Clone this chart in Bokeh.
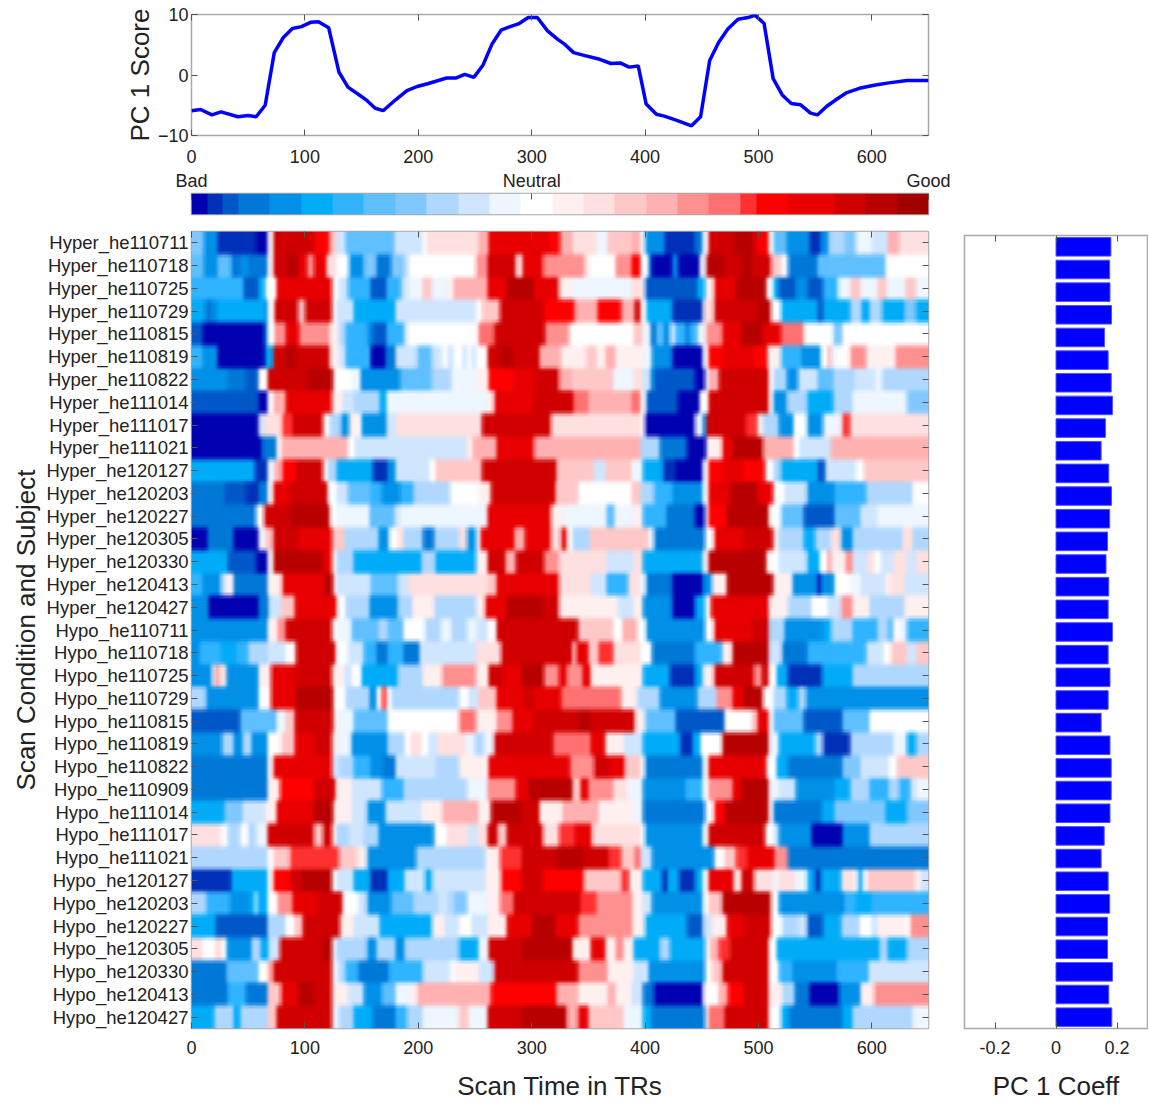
import numpy as np
from bokeh.embed import file_html
from bokeh.resources import INLINE
from bokeh.plotting import figure
from bokeh.layouts import column, row
from bokeh.models import Range1d, LinearAxis, FixedTicker

FONT = "Liberation Sans"

SCORE_T = [0,8,18,26,41,50,57,65,73,81,89,97,105,112,121,130,138,148,154,162,169,180,190,199,209,225,233,241,249,257,265,273,281,289,297,305,314,323,329,337,347,360,370,378,386,394,401,410,417,428,441,449,457,465,473,482,491,497,505,513,521,529,537,546,552,560,569,578,589,602,615,631,650]
SCORE_V = [-5.9,-5.7,-6.6,-6.1,-6.9,-6.7,-6.9,-5.0,3.7,6.2,7.7,8.0,8.7,8.8,7.8,0.5,-2.0,-3.3,-4.1,-5.5,-5.9,-4.1,-2.6,-1.9,-1.4,-0.5,-0.5,0.1,-0.4,1.6,5.1,7.4,8.0,8.5,9.5,9.5,7.3,5.9,5.1,3.7,3.2,2.6,1.9,2.0,1.3,1.5,-4.8,-6.5,-6.8,-7.5,-8.4,-6.9,2.4,5.4,7.6,9.2,9.5,9.9,8.5,-0.6,-3.3,-4.7,-4.9,-6.3,-6.6,-5.2,-4.0,-2.9,-2.2,-1.7,-1.3,-0.9,-0.9]

LABELS = ["Hyper_he110711","Hyper_he110718","Hyper_he110725","Hyper_he110729","Hyper_he110815","Hyper_he110819","Hyper_he110822","Hyper_he111014","Hyper_he111017","Hyper_he111021","Hyper_he120127","Hyper_he120203","Hyper_he120227","Hyper_he120305","Hyper_he120330","Hyper_he120413","Hyper_he120427",
"Hypo_he110711","Hypo_he110718","Hypo_he110725","Hypo_he110729","Hypo_he110815","Hypo_he110819","Hypo_he110822","Hypo_he110909","Hypo_he111014","Hypo_he111017","Hypo_he111021","Hypo_he120127","Hypo_he120203","Hypo_he120227","Hypo_he120305","Hypo_he120330","Hypo_he120413","Hypo_he120427"]

COEFF = [.180,.176,.177,.182,.159,.171,.181,.185,.162,.148,.173,.182,.176,.169,.164,.173,.171,.185,.171,.177,.171,.148,.177,.181,.181,.177,.158,.148,.171,.176,.169,.169,.185,.173,.183]

LEVEL_COLORS = dict(a="#0000b0",b="#0030b8",c="#0058c8",d="#0078d8",e="#0090e8",f="#00acf8",g="#30b4ff",h="#60c0ff",i="#80c8ff",j="#b0d8ff",k="#d0e6ff",l="#eef6ff",m="#ffffff",n="#fff0f0",o="#ffe0e0",p="#ffc8c8",q="#ffb0b0",r="#ff9090",s="#ff7070",t="#ff3030",u="#ff0000",v="#e80000",w="#d00000",x="#b80000",y="#a00000")
COLORBAR_LEVELS = list("abcddeeffgghhiijjkkllmmnnooppqqrrsstuuvvvwwxxyy")

# each row: "<end TR><level>" runs
ROWS = [
"11i 23e 57b 67a 72m 108w 122u 128p 136k 179h 204k 207m 253o 262q 316v 325u 336q 357o 367l 388p 396q 400m 417e 444b 451d 456m 478w 496x 500v 509u 513m 525h 545e 555b 562e 576j 586i 600l 614k 624q 650o",
"11h 23e 35h 43d 50e 67d 72m 84w 94x 102v 108r 119v 128o 139m 152e 163i 176d 187i 191j 251m 261r 286w 292o 310v 347r 352n 374m 388r 396u 403m 406d 424a 429e 448a 454l 470x 485w 494x 511w 520p 526m 552d 612h 650m",
"46g 59c 65f 75m 124v 130m 138k 158g 172c 185g 191k 204l 212p 226l 231n 261q 278v 302x 324v 336n 388l 398o 400m 446c 453f 461n 480v 507x 513m 518f 533c 543e 557c 570g 581l 590p 605l 613p 630l 639p 650l",
"12f 18d 23e 65f 67d 73m 94w 100p 124w 128m 143k 180f 251k 256m 272p 311w 338u 358q 379u 391q 396w 401m 424f 451b 461o 499w 511x 520m 552f 557c 581f 591j 598f 609j 629f 639i 650f",
"10c 64a 67d 73m 83r 95v 122r 130n 136j 155g 160e 172c 187g 190j 253m 267s 312w 333r 390m 398p 405l 410d 416h 422e 427k 436g 439d 446g 454l 468r 485v 504x 520v 540s 566m 574i 650m",
"10g 23e 65a 72f 83w 92x 122w 130n 136k 158g 171a 180d 199k 212h 221k 226m 231k 239m 243k 247m 251k 261m 272w 283x 307w 326q 348n 357p 365n 374q 398n 406l 424e 451a 456m 468u 496v 508u 520n 538g 555e 561m 564q 569l 581m 595r 621n 650r",
"32e 48d 59c 67m 102w 125x 141m 149l 184e 212h 229j 251l 262n 284u 303v 324w 335q 372p 390l 398o 405k 408e 444c 453a 456m 465q 509w 513m 525j 535e 552k 566h 585j 603k 609l 650j",
"59c 67a 72m 83q 124v 133n 143k 166j 172f 261l 267n 302v 337w 350s 388q 396s 401m 429c 448a 456m 509w 513m 525e 543j 566f 583j 631l 650i",
"59a 64k 80o 89t 116w 122m 132j 139e 147n 150m 172e 180k 256o 317w 396o 400m 444a 451l 454e 489w 499t 504n 518j 531e 543m 557e 574l 581t 650o",
"62a 75d 79m 138q 144m 243k 248n 269q 302v 396q 413j 437d 454a 468n 477v 504x 531q 536m 564k 650q",
"56f 67b 73l 80q 92u 116w 120m 128j 160f 173b 180e 210k 215m 256p 322w 355p 365k 388p 398l 416f 427b 451a 456m 468u 487v 506u 513m 520j 552f 559c 586k 593m 650p",
"29d 48c 59b 67d 72m 86v 120w 128m 138k 158h 168g 184e 196g 228j 253m 264n 321w 341p 388m 396p 408j 424g 451e 456m 475v 499x 513v 523m 543k 567e 595g 636j 650m",
"57d 64m 87w 122x 128m 157l 179h 184k 261l 317v 327n 366l 373h 390l 398n 419g 444d 453a 456m 472u 509x 520m 540h 567c 590h 605k 650l",
"14a 37d 59a 65l 72p 94w 124v 135p 165j 174e 182m 187o 204j 214d 236j 243o 251e 255m 285v 294q 317v 326o 331v 336m 351j 403p 408l 453d 461m 487v 513w 518n 540j 550f 564j 573o 583e 627j 636o 650j",
"32f 57c 67a 72m 116x 124v 128m 143j 203f 215j 251f 261n 277w 286q 311w 324r 366o 390k 398o 451f 456n 507x 518m 543k 554f 561m 564r 577n 583r 596k 602o 608m 619k 631o 639k 650o",
"10g 26e 31k 37n 67d 80n 117v 125x 128n 158k 182h 191k 261o 269p 324v 352o 366k 385g 395o 401l 424d 451a 459e 472n 513x 530n 552e 555a 567e 581m 590l 612k 617n 629o 650k",
"15e 59a 68d 79k 91p 128v 136m 157j 182e 195j 214n 251j 259n 278v 310x 324w 376n 390k 398n 424e 444a 453f 458m 509v 526n 547j 561m 573k 583r 598n 629j 650n",
"67e 76n 83r 124w 128m 141l 165h 173j 187h 206m 220j 229l 243j 251l 261k 269m 317w 341w 372p 380m 393q 401m 453e 461m 494v 509w 523j 557e 564f 583j 605g 614j 619h 624m 631l 650g",
"7e 26g 40f 50g 67j 83k 92m 127w 138m 152k 163g 173d 187g 201d 251k 273o 336w 339n 350v 359p 372t 396o 406m 444d 468g 477n 509x 521k 543d 595g 610k 617m 631p 639k 650p",
"18e 21n 24r 31o 59e 70n 92v 124w 135n 141k 150m 182f 204j 221n 251r 262n 275w 291v 311x 324r 331v 345r 352v 398n 422f 444b 451f 461n 496w 503r 509w 516m 526f 556b 583f 650j",
"13j 59e 70m 92v 125x 136m 157j 163e 168m 172t 176m 236j 244m 253k 269p 294v 302w 326v 379s 393n 413j 446e 463j 477r 487v 504x 513m 525j 535f 542j 650e",
"43c 75h 83l 91p 125w 128n 143l 173h 236m 251s 269n 283r 302v 311w 341w 352x 391w 400n 427h 470c 494m 499p 509v 513m 540h 574c 598h 650m",
"27e 37j 45e 53j 67e 79m 91p 108v 124w 128n 141l 173e 188j 193m 203o 209m 217k 242o 250l 258j 267l 319w 352s 365v 381n 398k 431f 442b 449f 468m 509x 518l 550f 557j 581b 619j 631l 639f 650j",
"67d 72m 124v 130k 143j 158g 169e 180d 215k 236j 262n 334v 355r 369w 382v 396p 400m 451d 456m 507v 516m 526f 574d 590i 615k 622m 650p",
"67d 78n 108u 127w 141n 168k 187g 243j 261l 286r 297v 336x 343p 350v 372r 384o 398l 436e 451g 456m 477r 485v 509x 518l 533k 567e 581f 598j 615g 624j 634g 639k 650l",
"29f 45i 65k 75n 108v 125x 141n 155k 171e 180k 203k 221n 253q 264n 291x 307w 327n 359q 390n 398l 453d 461m 470u 509x 513m 556d 567f 612i 631f 650i",
"26o 32m 43j 50m 57j 67l 108w 116p 124w 128n 139j 152k 165j 214e 225m 244o 252k 261o 270w 278p 310w 324o 338t 353v 396o 400m 451e 456m 506w 513m 518k 547e 574a 598e 650j",
"67j 72m 87p 130t 146p 155n 198e 259j 272n 291t 322w 346x 368w 379t 391p 396s 406k 461e 470m 480p 490t 514v 526r 650d",
"35b 67f 72m 87u 98w 124x 128m 143k 158f 173b 188f 206k 212f 259k 273n 291u 310w 346u 379p 386t 398n 415f 420b 430f 444b 451f 456m 478v 485o 496w 513o 518l 533o 543l 550f 555b 573f 583o 588n 592f 596m 638p 643n 650k",
"13j 34g 51e 56f 58l 67f 76m 89r 111v 133w 147m 155k 176e 196h 218j 226k 232j 243i 261l 272n 284s 343w 357t 389r 398n 406k 451e 456m 468p 511x 518m 576e 586g 600f 650g",
"21f 67c 83j 91m 98p 131w 143n 166k 212f 223n 236k 247m 261k 278n 300v 321x 341v 389r 400n 437f 451c 459k 472n 488v 511w 521m 535j 543k 557c 573f 589j 600m 605k 630n 634m 650r",
"10o 20m 27o 31m 53e 61j 68f 78k 116w 124x 128l 155j 163e 180j 188e 236j 253f 262l 292w 336x 352n 365v 374n 381r 390n 413f 422j 453f 458n 465q 475t 509w 516m 607f 614j 631f 650j",
"31d 59h 67m 72q 124w 130l 136j 147g 174d 204g 228k 232m 253n 267k 341w 367r 390n 403k 453e 459m 468p 509w 518m 530g 569e 597g 650k",
"32d 48g 67d 79p 94v 108x 124w 138n 152k 168e 180h 193l 199n 264q 322u 341q 367n 374q 388n 398k 408d 451a 465m 473q 487u 509w 521n 532j 545d 571a 590e 602n 650r",
"20f 37j 43f 67j 75p 124w 130l 143j 160f 180d 190g 204j 236l 244p 261l 291w 331x 341q 350v 381p 398l 406f 453d 456m 470s 509w 520m 527f 574d 583f 636j 650l",
]

TICK = "#555555"
FRAME = "#a8a8a8"

def hex2rgb(h):
    return [int(h[i:i+2], 16) for i in (1, 3, 5)]

def to_rgba(img):
    img = img.astype(np.uint32)
    return (255 << 24) | (img[..., 2] << 16) | (img[..., 1] << 8) | img[..., 0]

def build_image(rows):
    sub = 8
    img = np.zeros((len(rows) * sub, 650, 3), dtype=float)
    for r, s in enumerate(rows):
        start = 0
        for tok in s.split():
            end, lev = int(tok[:-1]), tok[-1]
            img[r * sub:(r + 1) * sub, start:end] = hex2rgb(LEVEL_COLORS[lev])
            start = end
    kx = np.array([1, 2, 3, 4, 3, 2, 1], float); kx /= kx.sum()
    ky = np.array([1, 2, 1], float); ky /= ky.sum()
    pad = np.pad(img, ((0, 0), (3, 3), (0, 0)), mode="edge")
    img = sum(k * pad[:, i:i + 650] for i, k in enumerate(kx))
    pad = np.pad(img, ((1, 1), (0, 0), (0, 0)), mode="edge")
    img = sum(k * pad[i:i + img.shape[0]] for i, k in enumerate(ky))
    return to_rgba(img[::-1])

def style(ax, size="18px"):
    ax.major_label_text_font = FONT
    ax.major_label_text_font_size = size
    ax.major_label_text_color = "#222222"
    ax.axis_line_color = None
    ax.major_tick_line_color = TICK
    ax.major_tick_in = 6
    ax.major_tick_out = 0
    ax.minor_tick_line_color = None
    ax.axis_label_text_font = FONT
    ax.axis_label_text_font_style = "normal"
    ax.axis_label_text_color = "#222222"
    ax.axis_label_text_font_size = "26px"

def blank_axis(ticks):
    ax = LinearAxis(ticker=FixedTicker(ticks=ticks))
    style(ax, "1px")
    ax.major_label_overrides = {t: "" for t in ticks}
    ax.major_label_standoff = 0
    return ax

def base(width, height, xr, yr, bl, br, bt, bb):
    p = figure(width=width, height=height, x_range=xr, y_range=yr,
               toolbar_location=None, output_backend="svg",
               min_border_left=bl, min_border_right=br, min_border_top=bt, min_border_bottom=bb,
               x_axis_location=None, y_axis_location=None)
    p.grid.visible = False
    p.outline_line_color = FRAME
    p.outline_line_width = 1.5
    return p

XT = [0, 100, 200, 300, 400, 500, 600]

# score line
top = base(1149, 165, Range1d(0, 650), Range1d(-10, 10), 191, 221, 14, 29)
top.line(SCORE_T, SCORE_V, line_color="#0000ff", line_width=3.5)
ax = LinearAxis(ticker=FixedTicker(ticks=XT)); style(ax); ax.major_label_standoff = 14
top.add_layout(ax, "below")
ay = LinearAxis(ticker=FixedTicker(ticks=[-10, 0, 10]), axis_label="PC 1 Score"); style(ay)
ay.major_label_standoff = 3; ay.axis_label_standoff = 0
top.add_layout(ay, "left")
top.add_layout(blank_axis(XT), "above")
top.add_layout(blank_axis([-10, 0, 10]), "right")

# colour bar
cb = base(1149, 53, Range1d(0, 650), Range1d(0, 1), 191, 221, 28, 4)
cb.image_rgba(image=[to_rgba(np.array([[hex2rgb(LEVEL_COLORS[c]) for c in COLORBAR_LEVELS]], dtype=float))],
              x=0, y=0, dw=650, dh=1)
cax = LinearAxis(ticker=FixedTicker(ticks=[0, 300, 650]))
style(cax)
cax.major_label_overrides = {0: "Bad", 300: "Neutral", 650: "Good"}
cax.major_label_standoff = 3
cb.add_layout(cax, "above")

# heat map
nr = len(ROWS)
ht = base(935, 885, Range1d(0, 650), Range1d(0, nr), 191, 7, 13, 72)
ht.image_rgba(image=[build_image(ROWS)], x=0, y=0, dw=650, dh=nr)
yt = [nr - 0.5 - i for i in range(nr)]
hx = LinearAxis(ticker=FixedTicker(ticks=XT), axis_label="Scan Time in TRs"); style(hx)
hx.major_label_standoff = 12; hx.axis_label_standoff = 14
ht.add_layout(hx, "below")
hy = LinearAxis(ticker=FixedTicker(ticks=yt), axis_label="Scan Condition and Subject"); style(hy, "18.5px")
hy.major_label_overrides = {t: l for t, l in zip(yt, LABELS)}
hy.major_label_standoff = 3; hy.axis_label_standoff = 3
ht.add_layout(hy, "left")
ht.add_layout(blank_axis(XT), "above")
ht.add_layout(blank_axis(yt), "right")

# coefficient bars
br = base(213, 881, Range1d(-0.3, 0.3), Range1d(0, nr), 29, 1, 13, 72)
br.margin = (4, 0, 0, 0)
br.hbar(y=yt, left=0, right=COEFF, height=0.82, fill_color="#0000ff", line_color="#5050ff", line_width=1)
bx = LinearAxis(ticker=FixedTicker(ticks=[-0.2, 0, 0.2]), axis_label="PC 1 Coeff"); style(bx)
bx.major_label_overrides = {-0.2: "-0.2", 0: "0", 0.2: "0.2"}
bx.major_label_standoff = 12; bx.axis_label_standoff = 14
br.add_layout(bx, "below")
br.add_layout(blank_axis([-0.2, 0, 0.2]), "above")

page = column(top, cb, row(ht, br, spacing=0), spacing=0)
open("out.html", "w").write(file_html(page, INLINE))
